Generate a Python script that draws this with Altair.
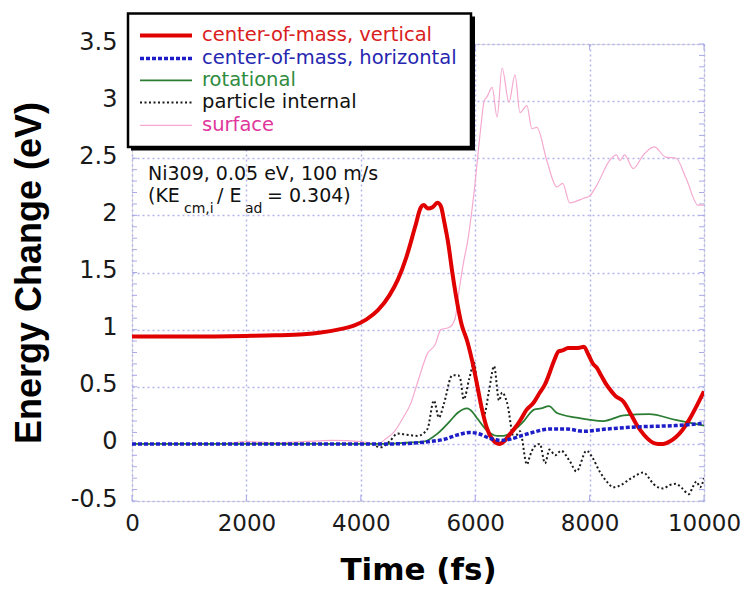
import altair as alt
import pandas as pd

# ---------------- data ----------------
vert_t = [0, 1000, 2000, 2500, 3000, 3300, 3600, 3900, 4100, 4300, 4500, 4650, 4800, 4950, 5050, 5100,
          5170, 5250, 5340, 5400, 5460, 5530, 5600, 5680, 5760, 5860, 5980, 6040, 6120, 6210, 6300,
          6420, 6520, 6600, 6680, 6780, 6900, 7020, 7130, 7220, 7300, 7380, 7460, 7540, 7620, 7700,
          7800, 7900, 7980, 8060, 8120, 8200, 8280, 8350, 8450, 8590, 8700, 8820, 8950, 9110, 9200,
          9290, 9400, 9510, 9620, 9740, 9870, 10000]
vert_v = [0.94, 0.94, 0.945, 0.95, 0.96, 0.975, 1.0, 1.04, 1.09, 1.17, 1.3, 1.44, 1.64, 1.9, 2.07, 2.09,
          2.06, 2.07, 2.11, 2.08, 1.94, 1.75, 1.5, 1.25, 1.05, 0.9, 0.65, 0.5, 0.3, 0.13, 0.04,
          0.0, 0.03, 0.08, 0.13, 0.2, 0.3, 0.36, 0.45, 0.52, 0.62, 0.73, 0.81, 0.82, 0.84, 0.84,
          0.84, 0.85, 0.78, 0.7, 0.67, 0.6, 0.53, 0.48, 0.42, 0.37, 0.28, 0.17, 0.08, 0.01, 0.0,
          0.0, 0.02, 0.06, 0.12, 0.21, 0.33, 0.46]

horiz_t = [0, 4000, 4600, 5000, 5200, 5460, 5700, 5900, 6050, 6250, 6450, 6600, 6800, 7000, 7300,
           7600, 7900, 8300, 8900, 9500, 10000]
horiz_v = [0.0, 0.0, 0.0, 0.01, 0.02, 0.04, 0.08, 0.1, 0.09, 0.05, 0.03, 0.04, 0.07, 0.1, 0.13,
           0.13, 0.11, 0.13, 0.15, 0.16, 0.18]

rot_t = [0, 4500, 4800, 5100, 5340, 5560, 5690, 5860, 5950, 6040, 6200, 6380, 6500, 6610, 6750,
         6850, 7030, 7150, 7290, 7430, 7770, 8240, 8600, 9040, 9500, 10000]
rot_v = [0.0, 0.0, 0.01, 0.02, 0.09, 0.2, 0.27, 0.31, 0.28, 0.22, 0.12, 0.07, 0.07, 0.09, 0.15,
         0.2, 0.3, 0.31, 0.33, 0.27, 0.23, 0.2, 0.25, 0.26, 0.21, 0.16]

int_t = [4200, 4350, 4500, 4643, 4800, 4990, 5165, 5278, 5365, 5452, 5600, 5700, 5739, 5800, 5896,
         5983, 6035, 6157, 6240, 6330, 6417, 6470, 6557, 6678, 6783, 6904, 6960, 7026, 7130, 7220,
         7300, 7400, 7500, 7652, 7770, 7948, 8050, 8174, 8300, 8417, 8550, 8696, 8800, 8939, 9040,
         9113, 9287, 9400, 9513, 9600, 9739, 9800, 9870, 9930, 10000]
int_v = [0.0, -0.03, 0.02, 0.09, 0.08, 0.07, 0.13, 0.38, 0.23, 0.35, 0.6, 0.6, 0.57, 0.39, 0.57,
         0.71, 0.49, 0.26, 0.46, 0.68, 0.38, 0.45, 0.36, 0.05, 0.11, -0.18, -0.1, -0.03, 0.0, -0.17,
         -0.05, -0.1, -0.06, -0.15, -0.24, -0.06, -0.12, -0.24, -0.33, -0.38, -0.36, -0.31, -0.28, -0.25, -0.3,
         -0.35, -0.39, -0.36, -0.35, -0.38, -0.44, -0.38, -0.33, -0.38, -0.3]

surf_t = [0, 1500, 2000, 2500, 3000, 3500, 4000, 4296, 4450, 4591, 4730, 4870, 5000, 5165, 5300,
          5400, 5550, 5650, 5720, 5800, 5860, 5980, 6087, 6157, 6210, 6296, 6383, 6470, 6590, 6696,
          6783, 6904, 6990, 7078, 7252, 7426, 7530, 7652, 7896, 8000, 8122, 8348, 8470, 8530, 8610,
          8765, 8940, 9130, 9330, 9513, 9690, 9896, 10000]
surf_v = [0.0, 0.0, 0.02, 0.01, 0.02, 0.03, 0.02, 0.0, 0.05, 0.11, 0.22, 0.35, 0.55, 0.79, 0.87,
          1.0, 1.02, 1.1, 1.35, 1.6, 1.75, 2.2, 2.72, 3.0, 3.04, 3.12, 2.86, 3.29, 2.99, 3.23,
          2.9, 2.96, 2.76, 2.77, 2.48, 2.25, 2.28, 2.11, 2.15, 2.17, 2.26, 2.48, 2.53, 2.48, 2.53,
          2.41, 2.53, 2.6, 2.51, 2.5, 2.32, 2.09, 2.09]

x_ticks = [0, 2000, 4000, 6000, 8000, 10000]
y_ticks = [-0.5, 0, 0.5, 1, 1.5, 2, 2.5, 3, 3.5]
y_minor = [-0.5, -0.4, -0.3, -0.2, -0.1, 0, 0.1, 0.2, 0.3, 0.4, 0.5, 0.6, 0.7, 0.8, 0.9, 1, 1.1, 1.2,
           1.3, 1.4, 1.5, 1.6, 1.7, 1.8, 1.9, 2, 2.1, 2.2, 2.3, 2.4, 2.5, 2.6, 2.7, 2.8, 2.9, 3, 3.1,
           3.2, 3.3, 3.4, 3.5]

legend_labels = ["center-of-mass, vertical", "center-of-mass, horizontal", "rotational",
                 "particle internal", "surface"]
line_colors = ["#e00000", "#1e1ec8", "#2a7d32", "#1a1a1a", "#f5a9cf"]
text_colors = ["#d92020", "#2626b0", "#2e8b3e", "#111111", "#e0369c"]

# ---------------- layout ----------------
W, H = 572, 457
FONT = "DejaVu Sans"
FRAME = "#a9a9e8"

xs = alt.Scale(domain=[0, 10000], nice=False, zero=False)
ys = alt.Scale(domain=[-0.5, 3.5], nice=False, zero=False)

x_axis = alt.Axis(values=x_ticks, format="d", labelFont=FONT, labelFontSize=23, labelColor="#1a1a1a",
                  labelPadding=11, labelFlush=False, labelOverlap=False, ticks=False, domain=False,
                  grid=True, gridColor="#b3b3ee", gridDash=[2, 3], gridWidth=1.5,
                  title="Time (fs)", titleFont=FONT, titleFontWeight="bold", titleFontSize=31,
                  titleColor="black", titleX=W / 2, titleY=78, titleBaseline="alphabetic",
                  titleAlign="center")
y_axis = alt.Axis(values=y_ticks,
                  labelExpr="datum.value < 0 ? '-' + format(-datum.value, '~g') : format(datum.value, '~g')",
                  labelFont=FONT, labelFontSize=24, labelColor="#1a1a1a", labelPadding=15,
                  labelOffset=-2, labelFlush=False, labelOverlap=False, ticks=False, domain=False,
                  grid=True, gridColor="#b3b3ee", gridDash=[2, 3], gridWidth=1.5,
                  title="Energy Change (eV)", titleFont="Liberation Sans", titleFontWeight="bold",
                  titleFontSize=36, titleColor="black", titleAngle=270, titleX=-92, titleY=228.5,
                  titleBaseline="alphabetic", titleAlign="center")

X = alt.X("t:Q", scale=xs, axis=x_axis)
Y = alt.Y("v:Q", scale=ys, axis=y_axis)


def series(t, v, color, width, dash=None):
    df = pd.DataFrame({"t": t, "v": v})
    kw = dict(color=color, strokeWidth=width, clip=True, interpolate="monotone")
    if dash:
        kw["strokeDash"] = dash
    return alt.Chart(df).mark_line(**kw).encode(x=X, y=Y)


one = pd.DataFrame({"a": [0]})

layers = []
# minor ticks on left and right, major ticks top and bottom
ydf = pd.DataFrame({"v": y_minor})
layers.append(alt.Chart(ydf).mark_rule(color=FRAME, strokeWidth=1).encode(
    y=Y, x=alt.value(0), x2=alt.value(5)))
layers.append(alt.Chart(ydf).mark_rule(color=FRAME, strokeWidth=1).encode(
    y=Y, x=alt.value(W - 5), x2=alt.value(W)))
xdf = pd.DataFrame({"t": x_ticks})
layers.append(alt.Chart(xdf).mark_rule(color=FRAME, strokeWidth=1).encode(
    x=X, y=alt.value(0), y2=alt.value(6)))
layers.append(alt.Chart(xdf).mark_rule(color=FRAME, strokeWidth=1).encode(
    x=X, y=alt.value(H - 6), y2=alt.value(H)))

# data series
layers.append(series(surf_t, surf_v, line_colors[4], 1.2))
layers.append(series(int_t, int_v, line_colors[3], 2, [2, 2.5]))
layers.append(series(rot_t, rot_v, line_colors[2], 1.8))
layers.append(series(vert_t, vert_v, line_colors[0], 4))
layers.append(series(horiz_t, horiz_v, line_colors[1], 3.5, [4, 2]))

# legend box (shadow + box)
layers.append(alt.Chart(one).mark_rect(color="black").encode(
    x=alt.value(-1), x2=alt.value(343), y=alt.value(-27.6), y2=alt.value(106.4)))
layers.append(alt.Chart(one).mark_rect(fill="white", stroke="black", strokeWidth=2.5).encode(
    x=alt.value(-4), x2=alt.value(339), y=alt.value(-30.6), y2=alt.value(103)))

row_y = [-8.6, 14.4, 36.4, 58.4, 81.4]
styles = [(4, None), (3.5, [4, 2]), (1.8, None), (2, [2, 2.5]), (1.2, None)]
for i, lab in enumerate(legend_labels):
    sw, dash = styles[i]
    kw = dict(color=line_colors[i], strokeWidth=sw)
    if dash:
        kw["strokeDash"] = dash
    layers.append(alt.Chart(one).mark_rule(**kw).encode(
        x=alt.value(8), x2=alt.value(60), y=alt.value(row_y[i])))
    layers.append(alt.Chart(one).mark_text(text=lab, align="left", baseline="middle", font=FONT,
                                           fontSize=19.5, color=text_colors[i]).encode(
        x=alt.value(70), y=alt.value(row_y[i])))

# annotation
ann = [
    ("Ni309, 0.05 eV, 100 m/s", 16, 136.4, 19),
    ("(KE", 16, 158.1, 19),
    ("cm,i", 52, 169.4, 14),
    ("/ E", 85, 158.1, 19),
    ("ad", 113, 169.4, 14),
    ("= 0.304)", 135, 158.1, 19),
]
for txt, ax, ay, fs in ann:
    layers.append(alt.Chart(one).mark_text(text=txt, align="left", baseline="alphabetic", font=FONT,
                                           fontSize=fs, color="#111111").encode(
        x=alt.value(ax), y=alt.value(ay)))

chart = alt.layer(*layers).properties(
    width=W, height=H,
    padding={"left": 124, "top": 36, "right": 38, "bottom": 84},
    autosize=alt.AutoSizeParams(type="none"),
).configure_view(stroke=FRAME, strokeWidth=1.5).configure(background="white")

chart.save("out.html", embed_options={"renderer": "svg", "actions": False})
